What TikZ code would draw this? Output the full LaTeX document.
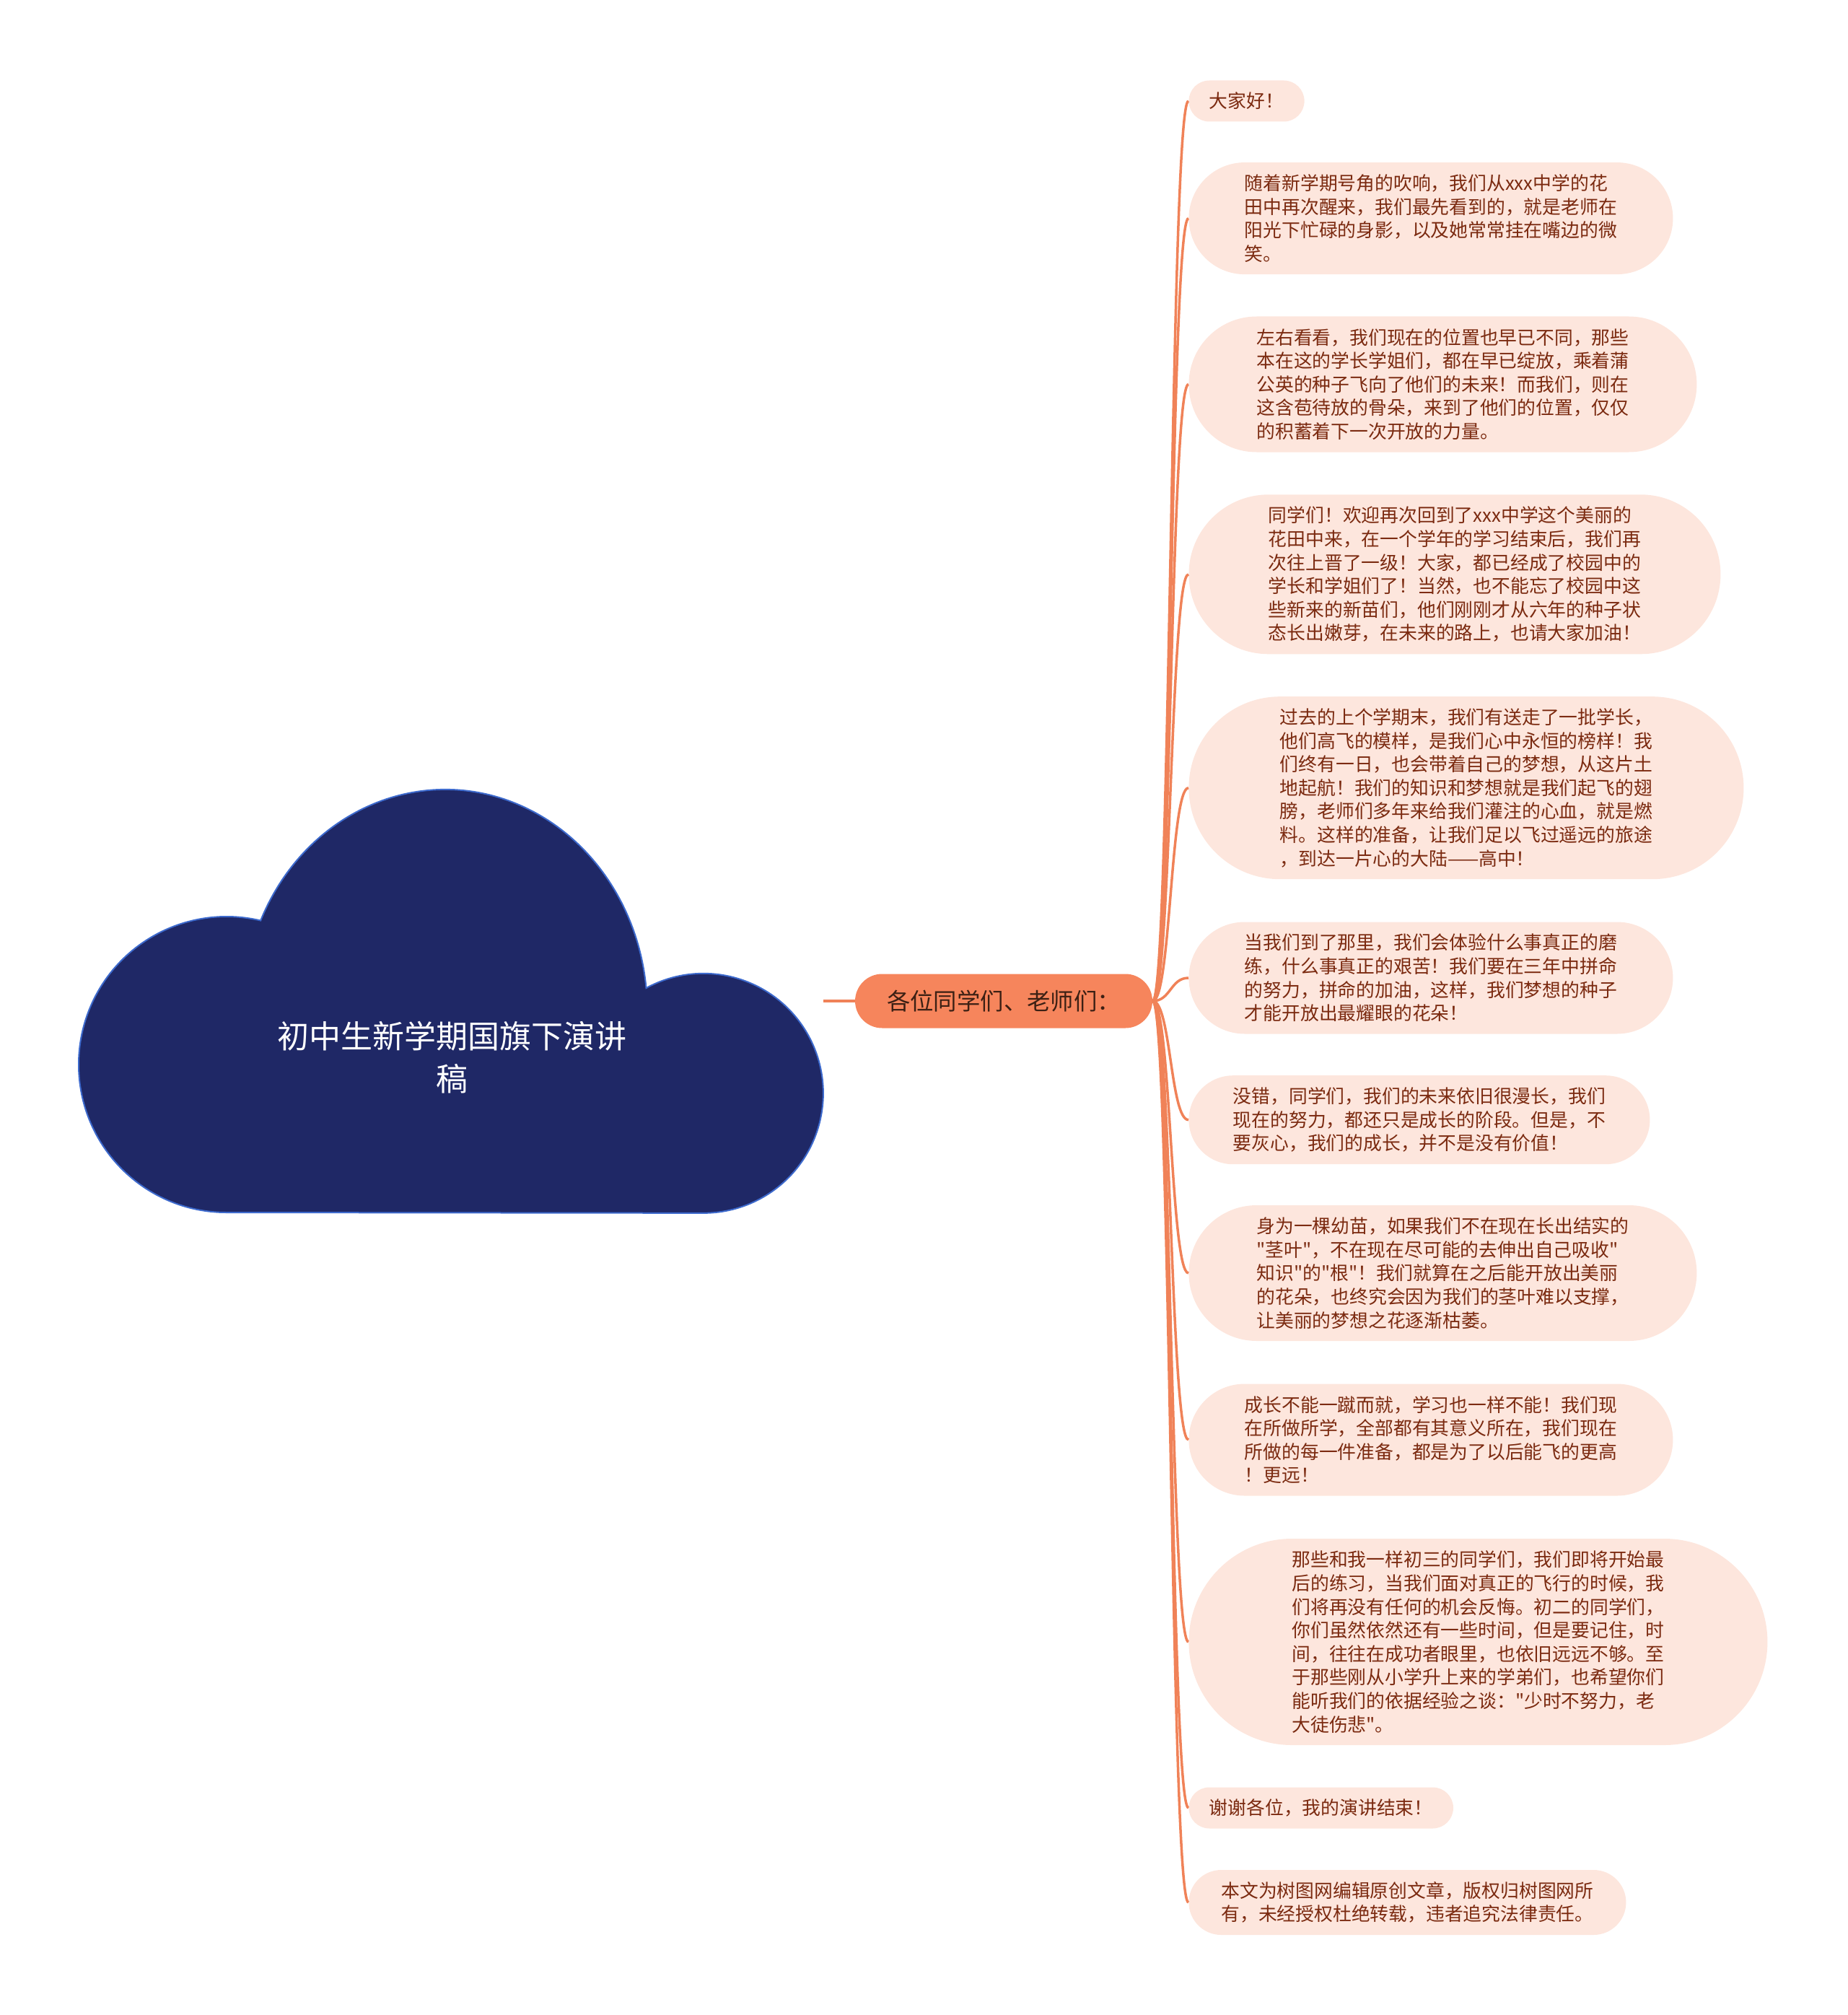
\documentclass[tikz,border=0pt]{standalone}
\usepackage{fontspec}
\setmainfont{Noto Sans CJK SC}[Ligatures=TeXOff]

\newlength{\du}
\setlength{\du}{0.5pt}

\definecolor{cloudfill}{RGB}{31,40,102}
\definecolor{cloudline}{RGB}{61,106,205}
\definecolor{hubfill}{RGB}{246,133,92}
\definecolor{hubtext}{RGB}{60,32,20}
\definecolor{branchline}{RGB}{240,130,88}
\definecolor{leaffill}{RGB}{253,230,221}
\definecolor{leaftext}{RGB}{123,42,16}

\tikzset{
  leaf/.style={rectangle, rounded corners=#1, fill=leaffill, text=leaftext, anchor=west,
    inner xsep=#1, inner ysep=14\du, minimum height=2*#1, align=left,
    font=\fontsize{12.9pt}{16.3pt}\selectfont},
  hub/.style={rectangle, rounded corners=37.5\du, fill=hubfill, text=hubtext,
    inner xsep=44\du, inner ysep=0pt, minimum height=75\du,
    font=\fontsize{16.2pt}{19pt}\selectfont},
  branch/.style={draw=branchline, line width=3.5\du},
}

\begin{document}
\begin{tikzpicture}
\pgftransformxscale{1.000000}
\pgftransformyscale{-1.000000}
\useasboundingbox (0\du,0\du) rectangle (2560\du,2792\du);
% cloud
\draw[draw=cloudline, fill=cloudfill, line width=2\du] (314\du,1680\du)
  arc[start angle=90, end angle=283.3, radius=205\du]
  arc[start angle=204, end angle=354.2, x radius=280\du, y radius=306\du]
  arc[start angle=241.44, end angle=450, radius=166\du] -- cycle;
\node[text=white, align=center, font=\fontsize{22pt}{29.5pt}\selectfont] (title) at (626\du,1465\du){初中生新学期国旗下演讲\\稿};
\coordinate (cloudedge) at (1141\du,1387\du);
% centre
\node[hub] (audience) at (1391\du,1387\du){各位同学们、老师们：};
\draw[branch] (cloudedge) -- (audience.west);
% leaves
\node[leaf=28.5\du] (hello) at (1647\du,140\du){大家好！};
\node[leaf=77.5\du] (spring) at (1647\du,302.6\du){随着新学期号角的吹响，我们从xxx中学的花\\田中再次醒来，我们最先看到的，就是老师在\\阳光下忙碌的身影，以及她常常挂在嘴边的微\\笑。};
\node[leaf=94\du] (around) at (1647\du,532.5\du){左右看看，我们现在的位置也早已不同，那些\\本在这的学长学姐们，都在早已绽放，乘着蒲\\公英的种子飞向了他们的未来！而我们，则在\\这含苞待放的骨朵，来到了他们的位置，仅仅\\的积蓄着下一次开放的力量。};
\node[leaf=110.5\du] (welcome) at (1647\du,795.8\du){同学们！欢迎再次回到了xxx中学这个美丽的\\花田中来，在一个学年的学习结束后，我们再\\次往上晋了一级！大家，都已经成了校园中的\\学长和学姐们了！当然，也不能忘了校园中这\\些新来的新苗们，他们刚刚才从六年的种子状\\态长出嫩芽，在未来的路上，也请大家加油！};
\node[leaf=126.5\du] (seniors) at (1647\du,1091.7\du){过去的上个学期末，我们有送走了一批学长，\\他们高飞的模样，是我们心中永恒的榜样！我\\们终有一日，也会带着自己的梦想，从这片土\\地起航！我们的知识和梦想就是我们起飞的翅\\膀，老师们多年来给我们灌注的心血，就是燃\\料。这样的准备，让我们足以飞过遥远的旅途\\，到达一片心的大陆——高中！};
\node[leaf=77.5\du] (hardship) at (1647\du,1355\du){当我们到了那里，我们会体验什么事真正的磨\\练，什么事真正的艰苦！我们要在三年中拼命\\的努力，拼命的加油，这样，我们梦想的种子\\才能开放出最耀眼的花朵！};
\node[leaf=61.5\du] (growth) at (1647\du,1551.7\du){没错，同学们，我们的未来依旧很漫长，我们\\现在的努力，都还只是成长的阶段。但是，不\\要灰心，我们的成长，并不是没有价值！};
\node[leaf=94\du] (seedling) at (1647\du,1764\du){身为一棵幼苗，如果我们不在现在长出结实的\\"茎叶"，不在现在尽可能的去伸出自己吸收"\\知识"的"根"！我们就算在之后能开放出美丽\\的花朵，也终究会因为我们的茎叶难以支撑，\\让美丽的梦想之花逐渐枯萎。};
\node[leaf=77.5\du] (effort) at (1647\du,1995\du){成长不能一蹴而就，学习也一样不能！我们现\\在所做所学，全部都有其意义所在，我们现在\\所做的每一件准备，都是为了以后能飞的更高\\！更远！};
\node[leaf=143\du] (classmates) at (1647\du,2275\du){那些和我一样初三的同学们，我们即将开始最\\后的练习，当我们面对真正的飞行的时候，我\\们将再没有任何的机会反悔。初二的同学们，\\你们虽然依然还有一些时间，但是要记住，时\\间，往往在成功者眼里，也依旧远远不够。至\\于那些刚从小学升上来的学弟们，也希望你们\\能听我们的依据经验之谈："少时不努力，老\\大徒伤悲"。};
\node[leaf=28.5\du] (thanks) at (1647\du,2505\du){谢谢各位，我的演讲结束！};
\node[leaf=45\du] (notice) at (1647\du,2636\du){本文为树图网编辑原创文章，版权归树图网所\\有，未经授权杜绝转载，违者追究法律责任。};
% branches
\draw[branch] (audience.east) .. controls +(25\du,0) and +(-25\du,0) .. (hello.west);
\draw[branch] (audience.east) .. controls +(25\du,0) and +(-25\du,0) .. (spring.west);
\draw[branch] (audience.east) .. controls +(25\du,0) and +(-25\du,0) .. (around.west);
\draw[branch] (audience.east) .. controls +(25\du,0) and +(-25\du,0) .. (welcome.west);
\draw[branch] (audience.east) .. controls +(25\du,0) and +(-25\du,0) .. (seniors.west);
\draw[branch] (audience.east) .. controls +(25\du,0) and +(-25\du,0) .. (hardship.west);
\draw[branch] (audience.east) .. controls +(25\du,0) and +(-25\du,0) .. (growth.west);
\draw[branch] (audience.east) .. controls +(25\du,0) and +(-25\du,0) .. (seedling.west);
\draw[branch] (audience.east) .. controls +(25\du,0) and +(-25\du,0) .. (effort.west);
\draw[branch] (audience.east) .. controls +(25\du,0) and +(-25\du,0) .. (classmates.west);
\draw[branch] (audience.east) .. controls +(25\du,0) and +(-25\du,0) .. (thanks.west);
\draw[branch] (audience.east) .. controls +(25\du,0) and +(-25\du,0) .. (notice.west);
\end{tikzpicture}
\end{document}
